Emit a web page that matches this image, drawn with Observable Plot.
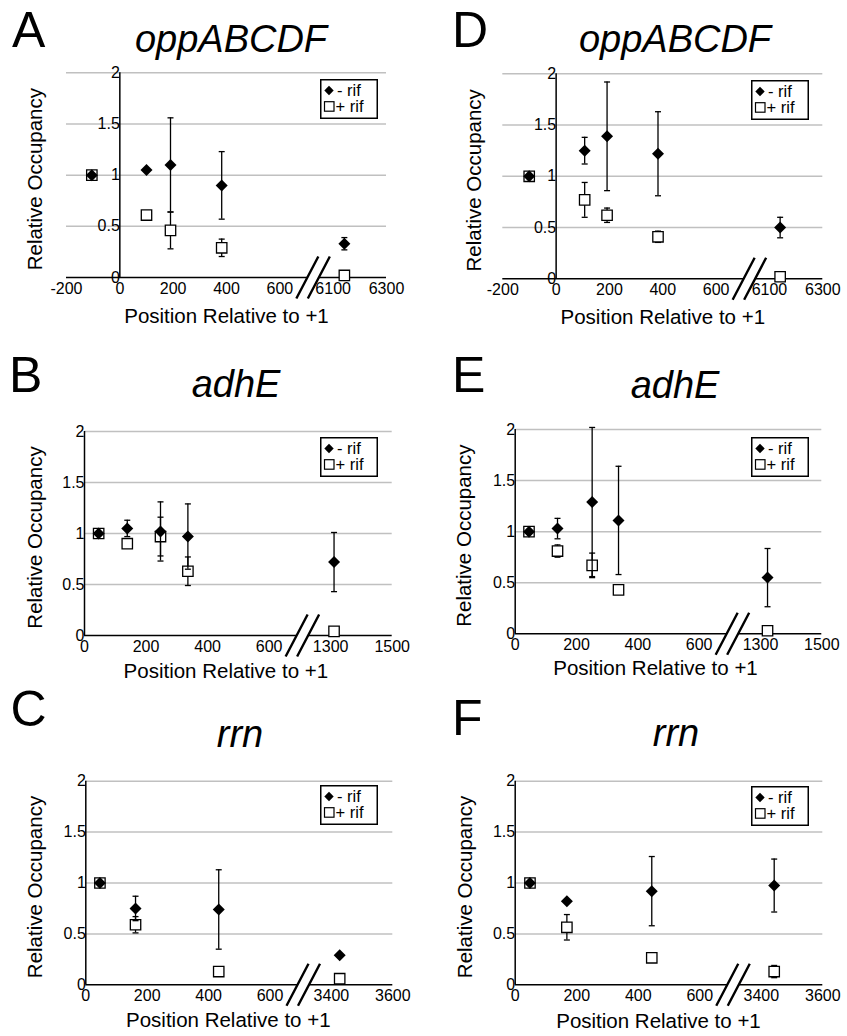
<!DOCTYPE html>
<html><head><meta charset="utf-8">
<script src="https://cdn.jsdelivr.net/npm/d3@7"></script>
<script src="https://cdn.jsdelivr.net/npm/@observablehq/plot@0.6"></script>
<style>
html,body{margin:0;padding:0;background:#fff;}
#page{position:relative;width:847px;height:1036px;overflow:hidden;font-family:"Liberation Sans",Arial,Helvetica,sans-serif;color:#000;background:#fff;}
.abs{position:absolute;white-space:nowrap;line-height:1;}
.letter{font-size:50px;}
.title{font-size:38px;font-style:italic;text-align:center;width:400px;}
.panel{position:absolute;}
.legend{position:absolute;}
</style></head><body><div id="page"></div>
<script>
// ---------- data ----------
const yTickValues = [0, 0.5, 1, 1.5, 2];
const yTickLabels = ["0", "0.5", "1", "1.5", "2"];
const oppTickLabels = ["-200", "0", "200", "400", "600", "6100", "6300"];
const adhTickLabels = ["0", "200", "400", "600", "1300", "1500"];
const rrnTickLabels = ["0", "200", "400", "600", "3400", "3600"];
const seriesNames = ["- rif", "+ rif"];

// A: oppABCDF (left)
const posA = [-105, 100, 190, 382, 6142];
const minusA = [1.00, 1.05, 1.10, 0.90, 0.33];
const minusErrA = [0, 0, 0.46, 0.33, 0.06];
const plusA = [1.00, 0.61, 0.46, 0.29, 0.02];
const plusErrA = [0, 0, 0.18, 0.085, 0];
// D: oppABCDF (right)
const posD = [-101, 107, 191, 382, 6140];
const minusD = [1.00, 1.25, 1.39, 1.22, 0.50];
const minusErrD = [0, 0.13, 0.53, 0.41, 0.10];
const plusD = [1.00, 0.77, 0.62, 0.41, 0.02];
const plusErrD = [0, 0.17, 0.07, 0.055, 0];
// B: adhE (left)
const posB = [46, 139, 247, 336, 1311];
const minusB = [1.00, 1.05, 1.02, 0.97, 0.72];
const minusErrB = [0, 0.08, 0.29, 0.32, 0.29];
const plusB = [1.00, 0.90, 0.97, 0.63, 0.04];
const plusErrB = [0, 0.03, 0.19, 0.14, 0];
// E: adhE (right)
const posE = [45, 138, 251, 337, 1323];
const minusE = [1.00, 1.03, 1.29, 1.11, 0.55];
const minusErrE = [0, 0.10, 0.73, 0.53, 0.285];
const plusE = [1.00, 0.81, 0.67, 0.43, 0.03];
const plusErrE = [0, 0.06, 0.12, 0, 0];
// C: rrn (left)
const posC = [46, 162, 433, 3427];
const minusC = [1.00, 0.75, 0.74, 0.29];
const minusErrC = [0, 0.12, 0.39, 0];
const plusC = [1.00, 0.59, 0.13, 0.06];
const plusErrC = [0, 0.08, 0, 0];
// F: rrn (right)
const posF = [48, 168, 444, 3442];
const minusF = [1.00, 0.82, 0.92, 0.975];
const minusErrF = [0, 0, 0.34, 0.26];
const plusF = [1.00, 0.565, 0.265, 0.13];
const plusErrF = [0, 0.125, 0, 0.06];

// ---------- layout ----------
const FONT = '"Liberation Sans", Arial, Helvetica, sans-serif';
const rowTop = [60, 410, 760], rowH = [280, 280, 276];
const colLeft = [0, 423], colW = [423, 424];

const panels = [
  {letter: "A", gene: "oppABCDF", pos: posA, minus: minusA, minusErr: minusErrA, plus: plusA, plusErr: plusErrA, ticks: oppTickLabels,
   col: 0, row: 0, L: 66, R: 386, T: 72.3, B: 277, xTitleMid: 315.8, xTitleDx: 0, yTitleX: 35, legend: [319.5, 79.3],
   letterLeft: 12, letterBase: 47, titleCx: 231, titleBase: 52},
  {letter: "B", gene: "adhE", pos: posB, minus: minusB, minusErr: minusErrB, plus: plusB, plusErr: plusErrB, ticks: adhTickLabels,
   col: 0, row: 1, L: 84, R: 391.7, T: 431, B: 635, xTitleMid: 670.5, xTitleDx: -12.5, yTitleX: 35, legend: [319.5, 437],
   letterLeft: 9, letterBase: 392, titleCx: 236, titleBase: 397},
  {letter: "C", gene: "rrn", pos: posC, minus: minusC, minusErr: minusErrC, plus: plusC, plusErr: plusErrC, ticks: rrnTickLabels,
   col: 0, row: 2, L: 85.3, R: 392.3, T: 780.7, B: 984.3, xTitleMid: 1020, xTitleDx: -11, yTitleX: 35, legend: [319.5, 785],
   letterLeft: 10.5, letterBase: 726, titleCx: 240, titleBase: 747},
  {letter: "D", gene: "oppABCDF", pos: posD, minus: minusD, minusErr: minusErrD, plus: plusD, plusErr: plusErrD, ticks: oppTickLabels,
   col: 1, row: 0, L: 502.3, R: 822.3, T: 73.3, B: 278.3, xTitleMid: 316.5, xTitleDx: 0, yTitleX: 474, legend: [750.5, 80],
   letterLeft: 452, letterBase: 47, titleCx: 675, titleBase: 52},
  {letter: "E", gene: "adhE", pos: posE, minus: minusE, minusErr: minusErrE, plus: plusE, plusErr: plusErrE, ticks: adhTickLabels,
   col: 1, row: 1, L: 514.7, R: 821.3, T: 429, B: 633.3, xTitleMid: 667.5, xTitleDx: -13, yTitleX: 464, legend: [750.5, 437],
   letterLeft: 452, letterBase: 392, titleCx: 675, titleBase: 398},
  {letter: "F", gene: "rrn", pos: posF, minus: minusF, minusErr: minusErrF, plus: plusF, plusErr: plusErrF, ticks: rrnTickLabels,
   col: 1, row: 2, L: 514.7, R: 822.3, T: 780.7, B: 984.3, xTitleMid: 1020.5, xTitleDx: -10.5, yTitleX: 465, legend: [750.5, 786],
   letterLeft: 452, letterBase: 735, titleCx: 676, titleBase: 746}
];

// ---------- custom symbols ----------
const rOf = size => Math.sqrt(size / Math.PI);
const capSym = {draw(ctx, size) { const r = rOf(size); ctx.moveTo(-r, 0); ctx.lineTo(r, 0); }};
const diamondSym = {draw(ctx, size) { const r = rOf(size); ctx.moveTo(0, -r); ctx.lineTo(r, 0); ctx.lineTo(0, r); ctx.lineTo(-r, 0); ctx.closePath(); }};
const squareSym = {draw(ctx, size) { const r = rOf(size); ctx.rect(-r, -r, 2 * r, 2 * r); }};
const breakLinesSym = {draw(ctx) { for (const c of [-5.75, 5.75]) { ctx.moveTo(c - 11, 21); ctx.lineTo(c + 11, -21); } }};
const breakGapSym = {draw(ctx) { ctx.moveTo(-16.75, 21); ctx.lineTo(5.25, -21); ctx.lineTo(16.75, -21); ctx.lineTo(-5.25, 21); ctx.closePath(); }};

const page = document.getElementById("page");

function addDiv(cls, text, left, top, extra) {
  const d = document.createElement("div");
  d.className = "abs " + cls;
  d.textContent = text;
  d.style.left = left + "px";
  d.style.top = top + "px";
  if (extra) Object.assign(d.style, extra);
  page.appendChild(d);
  return d;
}

function makePanel(cfg) {
  const labels = cfg.ticks;
  const vals = labels.map(Number);
  const tickDisp = vals.map((v, i) => vals[0] + 200 * i);
  const bi = vals.findIndex((v, i) => i > 0 && v - vals[i - 1] > 200);
  const lowEnd = vals[bi - 1];
  const highStart = vals[bi];
  const toDisp = p => (p > lowEnd + 200 ? tickDisp[bi] + (p - highStart) : p);
  const fmt = new Map(tickDisp.map((d, i) => [d, labels[i]]));

  const minusRows = cfg.pos.map((p, i) => ({x: toDisp(p), y: cfg.minus[i], e: cfg.minusErr[i]}));
  const plusRows = cfg.pos.map((p, i) => ({x: toDisp(p), y: cfg.plus[i], e: cfg.plusErr[i]}));
  const minusE = minusRows.filter(d => d.e > 0);
  const plusE = plusRows.filter(d => d.e > 0);

  const left = colLeft[cfg.col], top = rowTop[cfg.row], W = colW[cfg.col], H = rowH[cfg.row];
  const errStyle = {stroke: "black", strokeWidth: 1.3};
  const plot = Plot.plot({
    width: W, height: H,
    marginLeft: cfg.L - left, marginRight: left + W - cfg.R,
    marginTop: cfg.T - top, marginBottom: top + H - cfg.B,
    style: {fontFamily: FONT, fontSize: "16px", background: "transparent", overflow: "visible", color: "black"},
    x: {domain: [tickDisp[0], tickDisp[tickDisp.length - 1]], ticks: tickDisp, tickFormat: d => fmt.get(d), tickSize: 0, tickPadding: 5, label: null},
    y: {domain: [0, 2], axis: null},
    marks: [
      Plot.ruleY(yTickValues.filter(v => v > 0), {stroke: "#c0c0c0", strokeWidth: 1.5}),
      Plot.ruleY([0], {stroke: "black", strokeWidth: 1.5}),
      Plot.ruleX([0], {y1: 0, y2: 2, stroke: "black", strokeWidth: 1.5}),
      Plot.dot([lowEnd], {x: d => d, y: 0, symbol: breakGapSym, r: 1, dx: 33.25, fill: "white", stroke: "none"}),
      Plot.dot([lowEnd], {x: d => d, y: 0, symbol: breakLinesSym, r: 1, dx: 33.25, fill: "none", stroke: "black", strokeWidth: 2.4}),
      Plot.ruleX(plusE, {x: "x", y1: d => d.y - d.e, y2: d => d.y + d.e, ...errStyle}),
      Plot.dot(plusE, {x: "x", y: d => d.y + d.e, symbol: capSym, r: 3, fill: "none", ...errStyle}),
      Plot.dot(plusE, {x: "x", y: d => d.y - d.e, symbol: capSym, r: 3, fill: "none", ...errStyle}),
      Plot.dot(plusRows, {x: "x", y: "y", symbol: squareSym, r: 5.2, fill: "white", stroke: "black", strokeWidth: 1.3}),
      Plot.ruleX(minusE, {x: "x", y1: d => d.y - d.e, y2: d => d.y + d.e, ...errStyle}),
      Plot.dot(minusE, {x: "x", y: d => d.y + d.e, symbol: capSym, r: 3, fill: "none", ...errStyle}),
      Plot.dot(minusE, {x: "x", y: d => d.y - d.e, symbol: capSym, r: 3, fill: "none", ...errStyle}),
      Plot.dot(minusRows, {x: "x", y: "y", symbol: diamondSym, r: 6, fill: "black", stroke: "none"}),
      Plot.text(yTickValues, {x: 0, y: d => d, text: (d, i) => yTickLabels[i], textAnchor: "end", dx: 0, fill: "black"}),
      Plot.text(["Position Relative to +1"], {frameAnchor: "bottom", text: d => d, fontSize: 20.5, textAnchor: "middle", lineAnchor: "middle", dy: cfg.xTitleMid - cfg.B, dx: cfg.xTitleDx, fill: "black"}),
      Plot.text(["Relative Occupancy"], {frameAnchor: "left", text: d => d, fontSize: 20.5, rotate: -90, textAnchor: "middle", lineAnchor: "middle", dx: cfg.yTitleX - cfg.L, dy: 4, fill: "black"})
    ]
  });
  const holder = document.createElement("div");
  holder.className = "panel";
  holder.style.left = left + "px";
  holder.style.top = top + "px";
  holder.appendChild(plot);
  page.appendChild(holder);

  // panel letter and gene title
  addDiv("letter", cfg.letter, cfg.letterLeft, cfg.letterBase - 0.8465 * 50);
  addDiv("title", cfg.gene, cfg.titleCx - 200, cfg.titleBase - 0.8465 * 38);

  // legend
  const lg = document.createElement("div");
  lg.className = "legend";
  lg.style.left = cfg.legend[0] + "px";
  lg.style.top = cfg.legend[1] + "px";
  lg.innerHTML = `<svg width="58" height="40" xmlns="http://www.w3.org/2000/svg" style="display:block;font-family:${FONT.replace(/"/g, "'")}">
    <rect x="0.75" y="0.75" width="56.5" height="38.5" fill="white" stroke="black" stroke-width="1.5"/>
    <path d="M9,6.8 L13.7,11.5 L9,16.2 L4.3,11.5Z" fill="black"/>
    <text x="17" y="17.3" font-size="16.5">${seriesNames[0]}</text>
    <rect x="4.5" y="22.7" width="9.5" height="9.5" fill="white" stroke="black" stroke-width="1.2"/>
    <text x="15.5" y="33.3" font-size="16.5">${seriesNames[1]}</text>
  </svg>`;
  page.appendChild(lg);
}

panels.forEach(makePanel);
</script>
</body></html>
